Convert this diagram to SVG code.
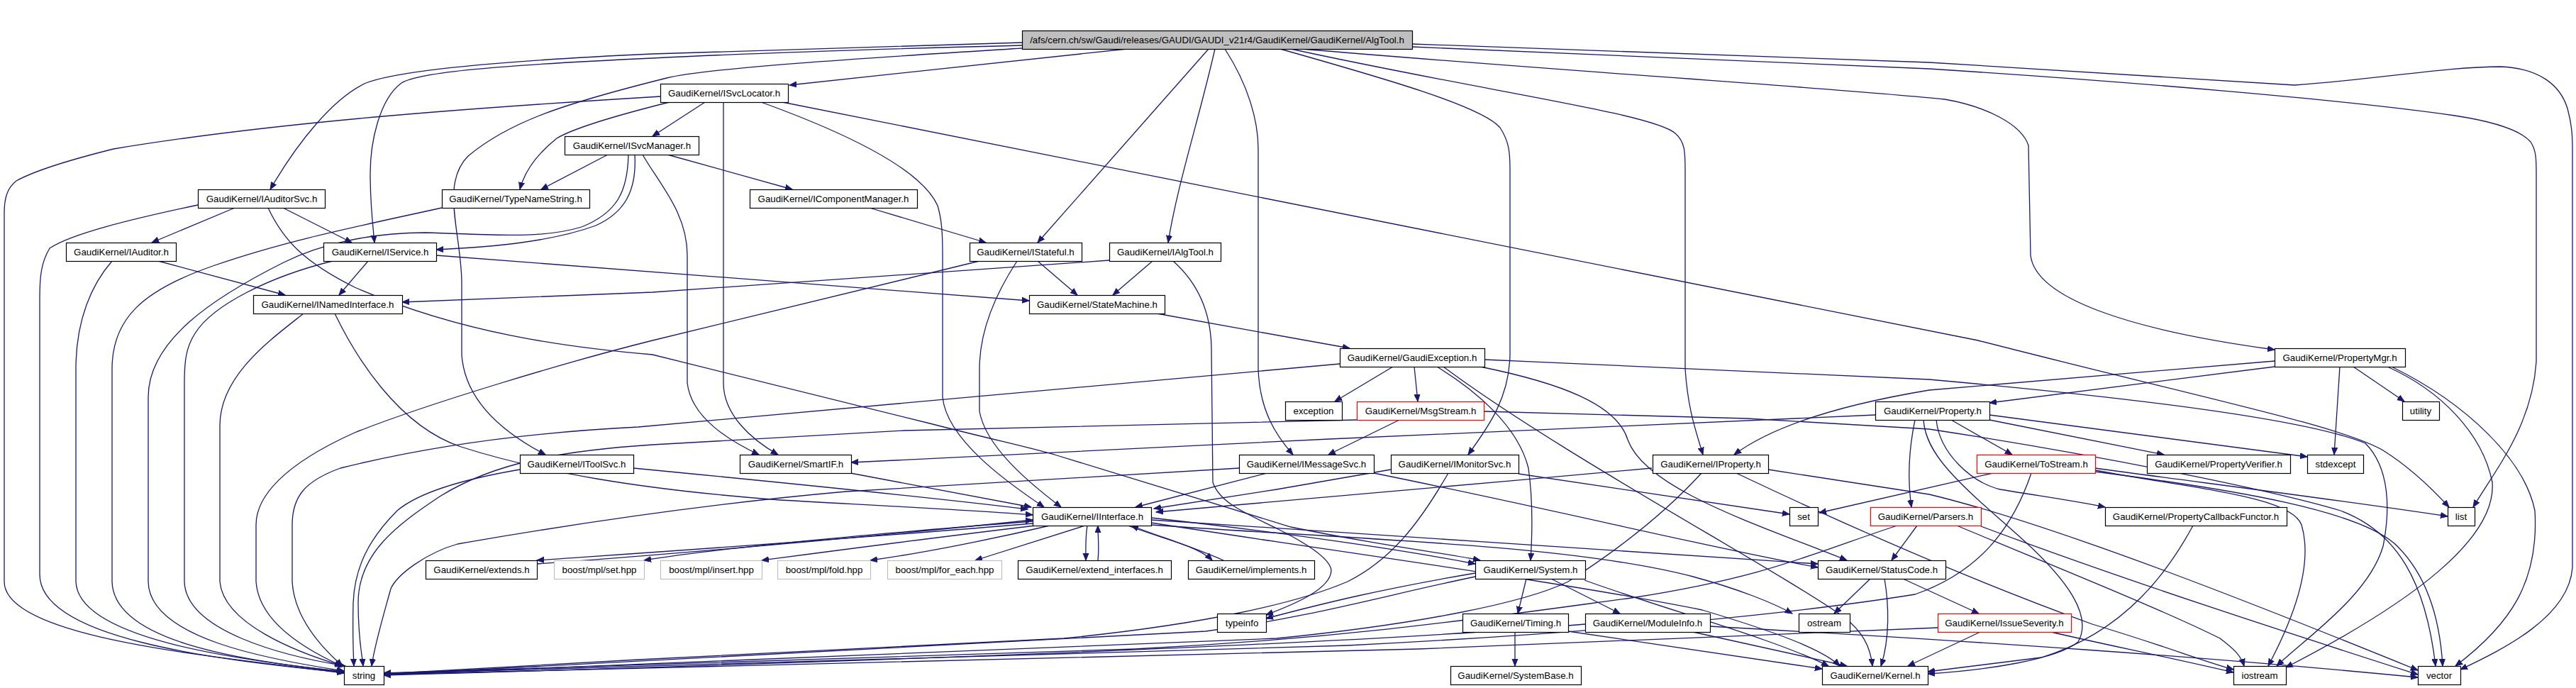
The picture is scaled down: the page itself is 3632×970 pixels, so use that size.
<svg xmlns="http://www.w3.org/2000/svg" width="3632" height="970" viewBox="0 0 3632 970">
<style>
.n rect{fill:#fff;stroke:#000;stroke-width:1.2}
.n text{font-family:"Liberation Sans",Arial,sans-serif;font-size:13.3px;text-anchor:middle;fill:#000}
.red rect{stroke:#ff0000}
.gray rect{stroke:#bfbfbf}
.root rect{fill:#bfbfbf}
.e{fill:none;stroke:#191970;stroke-width:1.3;marker-end:url(#arr)}
</style>
<defs>
<marker id="arr" markerUnits="userSpaceOnUse" markerWidth="12" markerHeight="10" refX="10" refY="4.5" orient="auto">
<path d="M0,0.5 L10,4.5 L0,8.5 z" fill="#191970" stroke="#191970" stroke-width="1"/>
</marker>
</defs>
<rect width="3632" height="970" fill="#fff"/>
<g id="edges">
<path class="e" d="M1589,69 L1113,120"/>
<path class="e" d="M1441,60 C1200,66 1000,72 920,76 C700,86 560,100 516,117 C470,138 420,200 381,267"/>
<path class="e" d="M1441,64 C1200,70 1000,78 920,82 C700,92 590,102 566,117 C535,140 522,200 522,245 C522,290 526,320 528,342"/>
<path class="e" d="M1441,68 C1250,80 1000,95 940,110 C800,145 720,170 660,220 C620,260 651,330 651,400 L651,500 C655,560 700,605 769,641"/>
<path class="e" d="M1704,69 L1463,342"/>
<path class="e" d="M1713,69 C1690,170 1660,260 1647,342"/>
<path class="e" d="M1727,69 C1760,120 1774,170 1774,210 L1774,520 C1776,580 1800,615 1823,641"/>
<path class="e" d="M1805,69 C1950,110 2090,150 2115,180 C2128,200 2129,215 2129,240 L2129,500 C2128,560 2100,600 2070,641"/>
<path class="e" d="M1820,69 C2100,130 2330,160 2362,188 C2376,200 2376,215 2376,240 L2376,520 C2380,580 2392,610 2401,641"/>
<path class="e" d="M1835,69 C2200,100 2600,125 2742,140 C2800,150 2850,175 2860,205 L2863,360 C2870,420 3000,465 3207,493"/>
<path class="e" d="M1991,62 C2300,72 2600,84 2720,88 L3235,120 C3350,112 3450,94 3526,94 C3580,96 3610,120 3620,153 C3626,175 3627,190 3627,210 L3627,800 C3622,870 3530,915 3469,944"/>
<path class="e" d="M1991,66 L2720,97 C3000,115 3300,140 3461,163 C3520,172 3555,185 3568,200 C3576,212 3576,225 3576,245 L3576,510 C3570,600 3520,660 3487,715"/>
<path class="e" d="M994,144 L920,192"/>
<path class="e" d="M944,144 C880,160 810,180 785,195 C760,215 740,240 733,267"/>
<path class="e" d="M931,136 C700,150 400,170 160,210 C100,225 50,240 23,255 C10,265 6,280 6,300 L6,820 C6,900 300,925 485,949"/>
<path class="e" d="M1020,144 L1020,540 C1020,585 1060,620 1097,641"/>
<path class="e" d="M1073,144 C1200,190 1300,240 1322,290 C1328,310 1329,330 1329,360 L1329,560 C1335,620 1420,680 1472,715"/>
<path class="e" d="M1103,144 L2789,480 C3100,560 3300,600 3360,635 C3400,660 3430,690 3453,715"/>
<path class="e" d="M857,218 L763,267"/>
<path class="e" d="M941,218 L1117,267"/>
<path class="e" d="M895,218 C898,270 880,300 840,318 C780,340 700,348 615,352"/>
<path class="e" d="M886,218 C885,270 870,300 820,320 C760,338 690,330 600,328 C520,328 450,345 400,370 C300,420 209,480 209,560 L209,820 C210,900 380,930 485,946"/>
<path class="e" d="M906,218 C930,260 969,300 969,360 L969,540 C975,590 1030,622 1070,641"/>
<path class="e" d="M331,293 L214,342"/>
<path class="e" d="M399,293 L496,342"/>
<path class="e" d="M279,289 C180,310 100,330 70,350 C58,370 56,390 56,420 L56,810 C56,900 300,930 485,948"/>
<path class="e" d="M378,293 C400,340 430,370 500,405 C650,470 800,490 920,500 L1311,597 C1400,620 1450,630 1490,642 L1820,743 C1950,770 2040,780 2087,790"/>
<path class="e" d="M623,293 C500,320 400,340 300,375 C200,410 158,450 158,520 L158,820 C160,900 320,930 485,947"/>
<path class="e" d="M1226,293 L1390,342"/>
<path class="e" d="M223,368 L402,416"/>
<path class="e" d="M158,368 C130,400 107,450 107,520 L107,820 C110,900 330,930 485,947"/>
<path class="e" d="M519,368 L478,416"/>
<path class="e" d="M469,368 C380,390 300,430 275,470 C262,490 260,510 260,540 L260,820 C262,890 400,925 487,939"/>
<path class="e" d="M615,360 L1451,424"/>
<path class="e" d="M1463,368 L1519,416"/>
<path class="e" d="M1381,368 L920,480 C800,510 600,570 500,610 C400,655 361,700 361,740 L361,820 C365,880 440,920 482,939"/>
<path class="e" d="M1434,368 C1400,420 1381,470 1381,520 L1381,580 C1390,630 1450,680 1496,715"/>
<path class="e" d="M1625,368 L1569,416"/>
<path class="e" d="M1564,367 L920,412 L567,426"/>
<path class="e" d="M1654,368 C1690,400 1707,440 1708,490 L1710,680 C1720,710 1760,725 1800,745 C1850,770 1877,790 1877,805 C1875,830 1830,850 1785,867"/>
<path class="e" d="M428,442 C380,480 310,530 310,600 L310,820 C315,880 420,920 483,939"/>
<path class="e" d="M472,442 C500,500 560,600 650,630 C760,665 900,690 1100,705 C1300,716 1400,721 1456,726"/>
<path class="e" d="M1631,442 L1903,491"/>
<path class="e" d="M1964,517 L1882,566"/>
<path class="e" d="M1994,517 L1999,566"/>
<path class="e" d="M2026,517 C2080,550 2140,600 2155,660 C2162,710 2160,760 2158,790"/>
<path class="e" d="M2035,517 C2200,640 2500,800 2600,870 C2625,890 2637,910 2640,939"/>
<path class="e" d="M1889,513 L900,602 C700,612 560,640 480,660 C430,678 412,700 412,740 L412,820 C415,870 450,910 483,939"/>
<path class="e" d="M2087,517 C2200,540 2280,570 2295,620 C2320,690 2480,740 2604,790"/>
<path class="e" d="M2093,507 L2720,535 C3000,560 3250,590 3335,625 C3370,660 3370,720 3360,770 C3340,840 3250,900 3210,939"/>
<path class="e" d="M3207,517 L2805,568"/>
<path class="e" d="M3207,509 L2720,550 C2600,570 2500,600 2445,641"/>
<path class="e" d="M3318,517 L3390,566"/>
<path class="e" d="M3299,517 L3291,641"/>
<path class="e" d="M3366,517 C3440,550 3500,610 3514,680 C3520,760 3400,850 3223,941"/>
<path class="e" d="M3372,517 C3480,570 3560,650 3574,720 C3580,820 3540,880 3462,939"/>
<path class="e" d="M2751,592 L2837,641"/>
<path class="e" d="M2805,592 L3051,641"/>
<path class="e" d="M2805,585 L3253,644"/>
<path class="e" d="M2730,592 C2735,640 2780,680 2820,690 C2880,700 2930,707 2968,715"/>
<path class="e" d="M2700,592 C2690,640 2690,680 2695,715"/>
<path class="e" d="M2712,592 C2715,640 2760,680 2840,750 C2920,820 2950,870 2930,905 C2900,930 2800,945 2718,950"/>
<path class="e" d="M2644,585 C2300,600 1600,630 1200,652"/>
<path class="e" d="M1973,592 L1873,641"/>
<path class="e" d="M1913,592 L1275,607 L920,627 C800,635 700,650 620,700 C560,740 505,780 505,850 C505,900 510,920 512,939"/>
<path class="e" d="M2092,580 L2463,590 L2720,605 C2950,640 3200,690 3300,720 C3380,750 3420,820 3434,939"/>
<path class="e" d="M893,660 C1100,680 1300,700 1449,718"/>
<path class="e" d="M733,662 C645,677 587,697 560,720 C520,760 500,800 498,850 C497,900 498,920 499,939"/>
<path class="e" d="M1199,667 L1454,715"/>
<path class="e" d="M1786,667 L1601,715"/>
<path class="e" d="M1747,660 L1193,693 C1000,710 800,740 645,767 C600,780 560,810 551,830 C540,870 528,910 524,939"/>
<path class="e" d="M1937,667 C2200,720 2400,770 2563,800"/>
<path class="e" d="M1961,662 L1800,690 L1627,717"/>
<path class="e" d="M2141,668 L2523,725"/>
<path class="e" d="M2042,667 C2000,740 1960,790 1900,820 C1830,850 1700,880 1500,900 L900,930 L541,950"/>
<path class="e" d="M2329,660 C2100,680 1900,700 1630,722"/>
<path class="e" d="M2399,667 C2357,713 2300,763 2211,820 C2150,850 2000,880 1800,900 L541,951"/>
<path class="e" d="M2493,662 L2720,697 C2900,740 3200,860 3409,945"/>
<path class="e" d="M2448,667 C2606,742 2785,820 2950,880 C3050,910 3100,930 3149,944"/>
<path class="e" d="M2810,667 L2565,723"/>
<path class="e" d="M2864,667 C2837,747 2789,807 2700,838 C2500,870 2200,895 1900,910 L541,950"/>
<path class="e" d="M2954,660 C3100,680 3300,705 3451,728"/>
<path class="e" d="M2954,663 C3100,690 3230,700 3245,740 C3260,790 3240,860 3198,939"/>
<path class="e" d="M2954,665 C3150,690 3330,720 3380,770 C3420,810 3440,870 3444,939"/>
<path class="e" d="M1456,735 C1200,755 1000,775 908,790"/>
<path class="e" d="M1460,741 C1300,760 1150,780 1074,790"/>
<path class="e" d="M1480,741 C1400,760 1300,780 1227,790"/>
<path class="e" d="M1530,741 L1375,790"/>
<path class="e" d="M1533,741 C1530,760 1531,775 1531,790"/>
<path class="e" d="M1548,790 C1550,770 1548,760 1548,741"/>
<path class="e" d="M1590,741 C1640,760 1690,770 1709,790"/>
<path class="e" d="M1725,790 C1680,770 1630,755 1595,741"/>
<path class="e" d="M1456,738 C1200,760 900,780 757,790"/>
<path class="e" d="M757,795 C900,785 1200,760 1456,733"/>
<path class="e" d="M1623,730 C1800,750 1950,770 2080,795"/>
<path class="e" d="M1623,733 C2000,760 2300,780 2563,795"/>
<path class="e" d="M1623,737 C1900,780 2200,820 2400,860 C2500,890 2570,915 2594,939"/>
<path class="e" d="M1623,740 C1900,760 2211,767 2387,813 C2450,830 2500,850 2527,865"/>
<path class="e" d="M2703,741 L2667,790"/>
<path class="e" d="M2675,741 C2555,780 2494,813 2300,843 C2100,870 1900,900 1600,915 L541,949"/>
<path class="e" d="M2793,742 C3000,820 3250,900 3409,951"/>
<path class="e" d="M2759,741 C2900,800 3050,860 3130,900 C3150,915 3160,925 3164,939"/>
<path class="e" d="M3092,741 C3060,800 3000,890 2878,927 L2718,947"/>
<path class="e" d="M2152,816 L2140,865"/>
<path class="e" d="M2187,816 L2284,865"/>
<path class="e" d="M2234,818 C2350,860 2500,900 2578,939"/>
<path class="e" d="M2080,813 C1950,840 1850,870 1700,890 L541,951"/>
<path class="e" d="M2080,808 C1950,830 1868,850 1785,872"/>
<path class="e" d="M2637,816 L2586,865"/>
<path class="e" d="M2657,816 C2663,850 2665,900 2652,939"/>
<path class="e" d="M2683,816 L2790,865"/>
<path class="e" d="M2136,891 L2136,939"/>
<path class="e" d="M2211,890 L2569,943"/>
<path class="e" d="M2387,891 L2604,939"/>
<path class="e" d="M2235,880 C2000,900 1500,925 541,952"/>
<path class="e" d="M2411,883 C2800,905 3100,925 3409,955"/>
<path class="e" d="M2792,891 L2690,939"/>
<path class="e" d="M2732,885 C2600,890 2300,903 2000,915 L541,951"/>
<path class="e" d="M2892,891 C2950,905 3050,925 3149,948"/>
</g>
<g id="n-algtool" class="n root"><rect x="1441.5" y="43.5" width="550" height="26"/><text x="1716" y="61">/afs/cern.ch/sw/Gaudi/releases/GAUDI/GAUDI_v21r4/GaudiKernel/GaudiKernel/AlgTool.h</text></g>
<g id="n-isvclocator" class="n"><rect x="931.5" y="118.5" width="180" height="26"/><text x="1021" y="136">GaudiKernel/ISvcLocator.h</text></g>
<g id="n-isvcmanager" class="n"><rect x="796.5" y="192.5" width="189" height="26"/><text x="891" y="210">GaudiKernel/ISvcManager.h</text></g>
<g id="n-iauditorsvc" class="n"><rect x="279.5" y="267.5" width="179" height="26"/><text x="369" y="285">GaudiKernel/IAuditorSvc.h</text></g>
<g id="n-typenamestring" class="n"><rect x="623.5" y="267.5" width="208" height="26"/><text x="727" y="285">GaudiKernel/TypeNameString.h</text></g>
<g id="n-icomponentmanager" class="n"><rect x="1057.5" y="267.5" width="236" height="26"/><text x="1175" y="285">GaudiKernel/IComponentManager.h</text></g>
<g id="n-iauditor" class="n"><rect x="93.5" y="342.5" width="155" height="26"/><text x="171" y="360">GaudiKernel/IAuditor.h</text></g>
<g id="n-iservice" class="n"><rect x="456.5" y="342.5" width="159" height="26"/><text x="536" y="360">GaudiKernel/IService.h</text></g>
<g id="n-istateful" class="n"><rect x="1367.5" y="342.5" width="158" height="26"/><text x="1446" y="360">GaudiKernel/IStateful.h</text></g>
<g id="n-ialgtool" class="n"><rect x="1564.5" y="342.5" width="157" height="26"/><text x="1643" y="360">GaudiKernel/IAlgTool.h</text></g>
<g id="n-inamedinterface" class="n"><rect x="357.5" y="416.5" width="210" height="26"/><text x="462" y="434">GaudiKernel/INamedInterface.h</text></g>
<g id="n-statemachine" class="n"><rect x="1451.5" y="416.5" width="191" height="26"/><text x="1547" y="434">GaudiKernel/StateMachine.h</text></g>
<g id="n-gaudiexception" class="n"><rect x="1889.5" y="491.5" width="204" height="26"/><text x="1991" y="509">GaudiKernel/GaudiException.h</text></g>
<g id="n-propertymgr" class="n"><rect x="3207.5" y="491.5" width="184" height="26"/><text x="3299" y="509">GaudiKernel/PropertyMgr.h</text></g>
<g id="n-exception" class="n"><rect x="1812.5" y="566.5" width="80" height="26"/><text x="1852" y="584">exception</text></g>
<g id="n-msgstream" class="n red"><rect x="1913.5" y="566.5" width="179" height="26"/><text x="2003" y="584">GaudiKernel/MsgStream.h</text></g>
<g id="n-property" class="n"><rect x="2644.5" y="566.5" width="161" height="26"/><text x="2725" y="584">GaudiKernel/Property.h</text></g>
<g id="n-utility" class="n"><rect x="3387.5" y="566.5" width="52" height="26"/><text x="3413" y="584">utility</text></g>
<g id="n-itoolsvc" class="n"><rect x="733.5" y="641.5" width="160" height="26"/><text x="813" y="659">GaudiKernel/IToolSvc.h</text></g>
<g id="n-smartif" class="n"><rect x="1043.5" y="641.5" width="157" height="26"/><text x="1122" y="659">GaudiKernel/SmartIF.h</text></g>
<g id="n-imessagesvc" class="n"><rect x="1747.5" y="641.5" width="190" height="26"/><text x="1842" y="659">GaudiKernel/IMessageSvc.h</text></g>
<g id="n-imonitorsvc" class="n"><rect x="1961.5" y="641.5" width="180" height="26"/><text x="2051" y="659">GaudiKernel/IMonitorSvc.h</text></g>
<g id="n-iproperty" class="n"><rect x="2330.5" y="641.5" width="163" height="26"/><text x="2412" y="659">GaudiKernel/IProperty.h</text></g>
<g id="n-tostream" class="n red"><rect x="2787.5" y="641.5" width="167" height="26"/><text x="2871" y="659">GaudiKernel/ToStream.h</text></g>
<g id="n-propertyverifier" class="n"><rect x="3027.5" y="641.5" width="202" height="26"/><text x="3128" y="659">GaudiKernel/PropertyVerifier.h</text></g>
<g id="n-stdexcept" class="n"><rect x="3253.5" y="641.5" width="79" height="26"/><text x="3293" y="659">stdexcept</text></g>
<g id="n-iinterface" class="n"><rect x="1456.5" y="715.5" width="167" height="26"/><text x="1540" y="733">GaudiKernel/IInterface.h</text></g>
<g id="n-set" class="n"><rect x="2523.5" y="715.5" width="40" height="26"/><text x="2543" y="733">set</text></g>
<g id="n-parsers" class="n red"><rect x="2637.5" y="715.5" width="156" height="26"/><text x="2715" y="733">GaudiKernel/Parsers.h</text></g>
<g id="n-propertycallbackfunctor" class="n"><rect x="2968.5" y="715.5" width="256" height="26"/><text x="3096" y="733">GaudiKernel/PropertyCallbackFunctor.h</text></g>
<g id="n-list" class="n"><rect x="3451.5" y="715.5" width="38" height="26"/><text x="3470" y="733">list</text></g>
<g id="n-extends" class="n"><rect x="600.5" y="790.5" width="157" height="26"/><text x="679" y="808">GaudiKernel/extends.h</text></g>
<g id="n-mplset" class="n gray"><rect x="781.5" y="790.5" width="127" height="26"/><text x="845" y="808">boost/mpl/set.hpp</text></g>
<g id="n-mplinsert" class="n gray"><rect x="931.5" y="790.5" width="143" height="26"/><text x="1003" y="808">boost/mpl/insert.hpp</text></g>
<g id="n-mplfold" class="n gray"><rect x="1096.5" y="790.5" width="131" height="26"/><text x="1162" y="808">boost/mpl/fold.hpp</text></g>
<g id="n-mplforeach" class="n gray"><rect x="1251.5" y="790.5" width="161" height="26"/><text x="1332" y="808">boost/mpl/for_each.hpp</text></g>
<g id="n-extendinterfaces" class="n"><rect x="1435.5" y="790.5" width="216" height="26"/><text x="1543" y="808">GaudiKernel/extend_interfaces.h</text></g>
<g id="n-implements" class="n"><rect x="1675.5" y="790.5" width="178" height="26"/><text x="1764" y="808">GaudiKernel/implements.h</text></g>
<g id="n-system" class="n"><rect x="2080.5" y="790.5" width="155" height="26"/><text x="2158" y="808">GaudiKernel/System.h</text></g>
<g id="n-statuscode" class="n"><rect x="2563.5" y="790.5" width="180" height="26"/><text x="2653" y="808">GaudiKernel/StatusCode.h</text></g>
<g id="n-typeinfo" class="n"><rect x="1716.5" y="865.5" width="69" height="26"/><text x="1751" y="883">typeinfo</text></g>
<g id="n-timing" class="n"><rect x="2062.5" y="865.5" width="149" height="26"/><text x="2137" y="883">GaudiKernel/Timing.h</text></g>
<g id="n-moduleinfo" class="n"><rect x="2235.5" y="865.5" width="176" height="26"/><text x="2323" y="883">GaudiKernel/ModuleInfo.h</text></g>
<g id="n-ostream" class="n"><rect x="2536.5" y="865.5" width="72" height="26"/><text x="2572" y="883">ostream</text></g>
<g id="n-issueseverity" class="n red"><rect x="2732.5" y="865.5" width="188" height="26"/><text x="2826" y="883">GaudiKernel/IssueSeverity.h</text></g>
<g id="n-string" class="n"><rect x="485.5" y="939.5" width="56" height="26"/><text x="513" y="957">string</text></g>
<g id="n-systembase" class="n"><rect x="2045.5" y="939.5" width="184" height="26"/><text x="2137" y="957">GaudiKernel/SystemBase.h</text></g>
<g id="n-kernel" class="n"><rect x="2569.5" y="939.5" width="149" height="26"/><text x="2644" y="957">GaudiKernel/Kernel.h</text></g>
<g id="n-iostream" class="n"><rect x="3149.5" y="939.5" width="74" height="26"/><text x="3186" y="957">iostream</text></g>
<g id="n-vector" class="n"><rect x="3409.5" y="939.5" width="60" height="26"/><text x="3439" y="957">vector</text></g>
</svg>
